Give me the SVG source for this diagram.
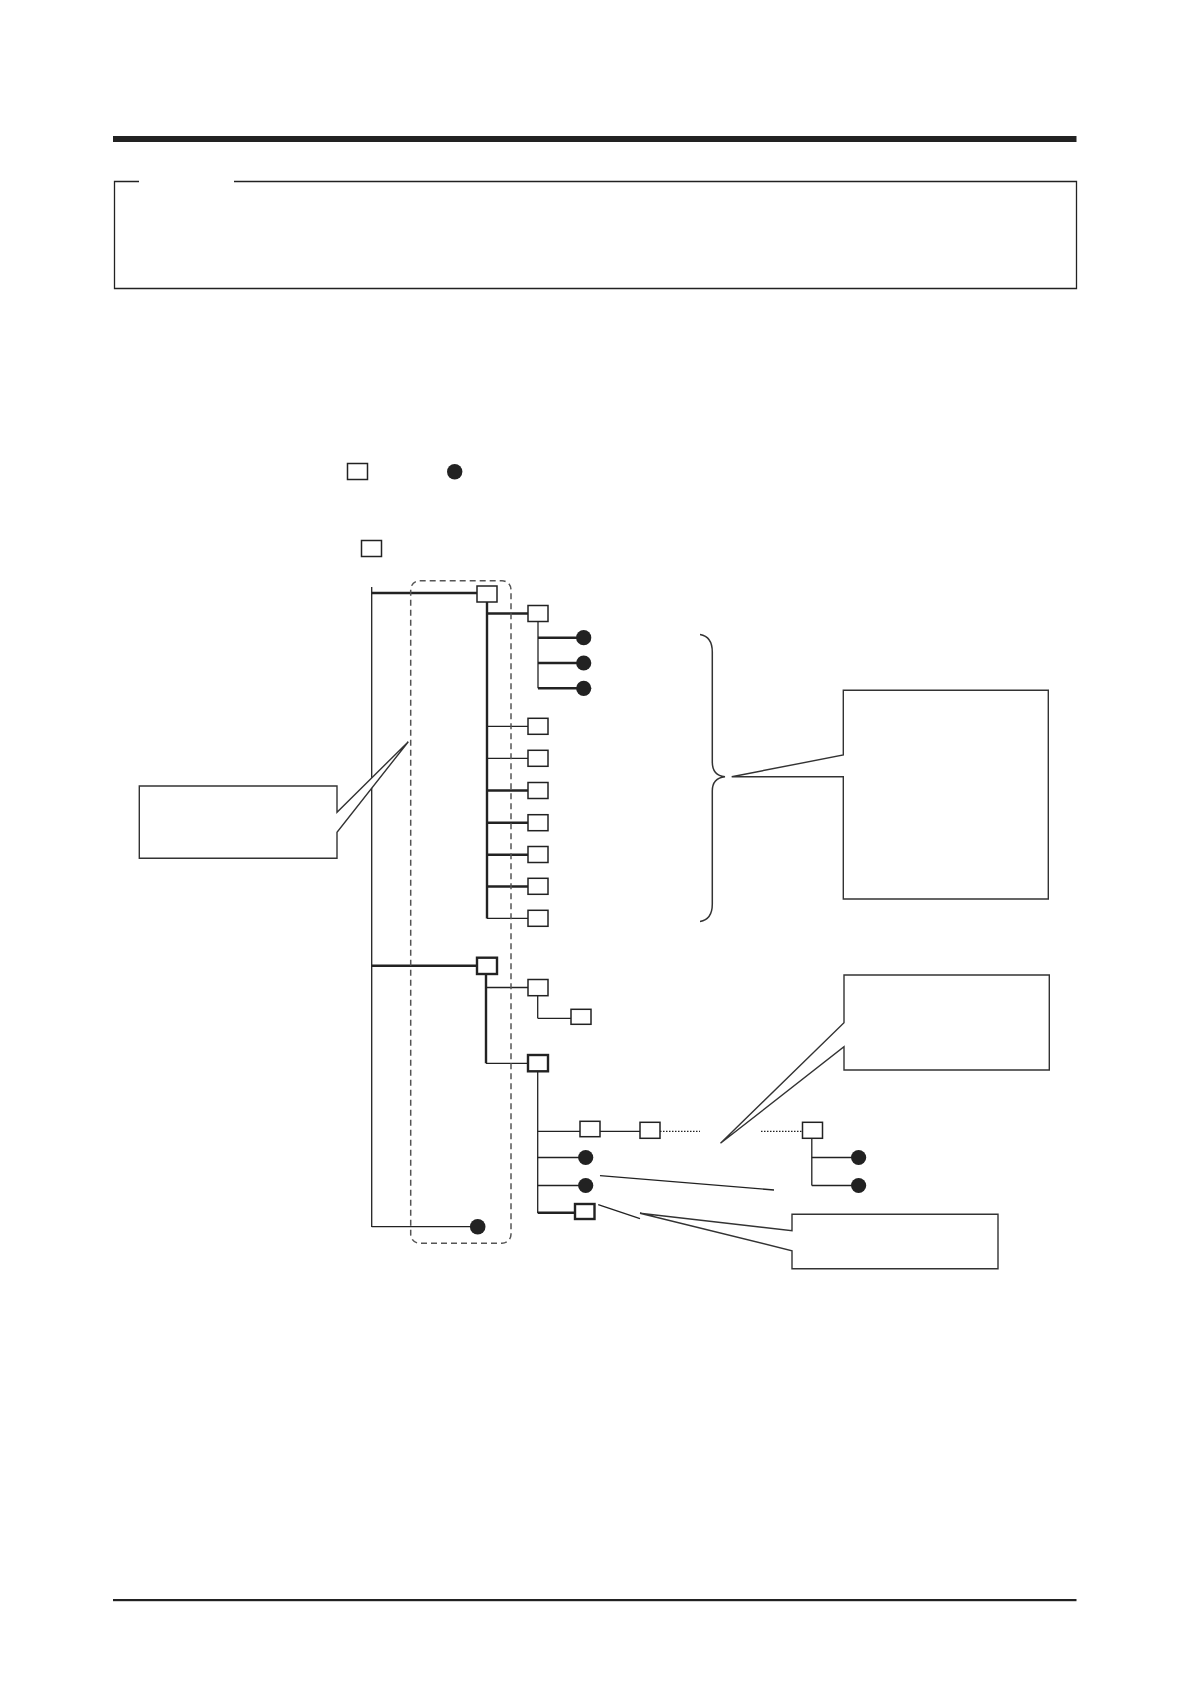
<svg xmlns="http://www.w3.org/2000/svg" width="1191" height="1684" viewBox="0 0 1191 1684">
<style>
.ln{stroke:#222;stroke-width:1.3;fill:none}
.tk{stroke:#222;stroke-width:2.4;fill:none}
.bx{fill:#fff;stroke:#222;stroke-width:1.5}
.bxt{fill:#fff;stroke:#222;stroke-width:2.4}
.dot{fill:#222}
.co{fill:#fff;stroke:#333;stroke-width:1.4}
.dash{fill:none;stroke:#555;stroke-width:1.5;stroke-dasharray:6,4}
.dotted{stroke:#222;stroke-width:1.2;stroke-dasharray:1.5,1.5;fill:none}
</style>
<rect width="1191" height="1684" fill="#fff"/>
<g id="frame">
<rect x="113" y="136" width="963.5" height="6" fill="#222"/>
<path d="M139 181.5 H114.5 V288.5 H1076.5 V181.5 H234" fill="none" stroke="#222" stroke-width="1.3"/>
<rect x="113" y="1599" width="963.5" height="2.2" fill="#222"/>
</g>
<g id="legend">
<rect class="bx" x="347.5" y="463.5" width="20" height="16"/>
<circle class="dot" cx="454.7" cy="471.7" r="7.7"/>
<rect class="bx" x="361.5" y="540.5" width="20" height="16"/>
</g>
<g id="connectors">
<line class="ln" x1="371.7" y1="587" x2="371.7" y2="1227"/>
<line class="tk" x1="371.7" y1="593" x2="477" y2="593"/>
<line class="tk" x1="487" y1="602" x2="487" y2="918.5"/>
<line class="tk" x1="487" y1="613.5" x2="528" y2="613.5"/>
<line class="ln" x1="538" y1="621.5" x2="538" y2="688.3"/>
<line class="tk" x1="538" y1="637.7" x2="580" y2="637.7"/>
<line class="tk" x1="538" y1="663" x2="580" y2="663"/>
<line class="tk" x1="538" y1="688.3" x2="580" y2="688.3"/>
<line class="ln" x1="487" y1="726.3" x2="528" y2="726.3"/>
<line class="ln" x1="487" y1="758.3" x2="528" y2="758.3"/>
<line class="tk" x1="487" y1="790.5" x2="528" y2="790.5"/>
<line class="tk" x1="487" y1="822.7" x2="528" y2="822.7"/>
<line class="tk" x1="487" y1="854.7" x2="528" y2="854.7"/>
<line class="tk" x1="487" y1="886.5" x2="528" y2="886.5"/>
<line class="ln" x1="487" y1="918.3" x2="528" y2="918.3"/>
<line class="tk" x1="371.7" y1="965.7" x2="477" y2="965.7"/>
<line class="tk" x1="486" y1="974" x2="486" y2="1063.3"/>
<line class="ln" x1="486" y1="987.5" x2="528" y2="987.5"/>
<line class="ln" x1="537.7" y1="995.7" x2="537.7" y2="1018.3"/>
<line class="ln" x1="537.7" y1="1018.3" x2="571" y2="1018.3"/>
<line class="ln" x1="486" y1="1063.3" x2="528" y2="1063.3"/>
<line class="ln" x1="537.7" y1="1071.3" x2="537.7" y2="1213"/>
<line class="ln" x1="537.7" y1="1131.3" x2="580" y2="1131.3"/>
<line class="ln" x1="600" y1="1131.3" x2="640" y2="1131.3"/>
<line class="dotted" x1="660" y1="1131.3" x2="700" y2="1131.3"/>
<line class="dotted" x1="761" y1="1131.3" x2="802.5" y2="1131.3"/>
<line class="ln" x1="811.8" y1="1138.3" x2="811.8" y2="1185.5"/>
<line class="ln" x1="811.8" y1="1157.5" x2="852" y2="1157.5"/>
<line class="ln" x1="811.8" y1="1185.5" x2="852" y2="1185.5"/>
<line class="ln" x1="537.7" y1="1157.5" x2="580" y2="1157.5"/>
<line class="ln" x1="537.7" y1="1185.5" x2="580" y2="1185.5"/>
<line class="tk" x1="537.7" y1="1212.7" x2="575" y2="1212.7"/>
<line class="ln" x1="371.7" y1="1226.7" x2="470" y2="1226.7"/>
<line class="ln" x1="600" y1="1175.7" x2="774" y2="1190"/>
<line class="ln" x1="598.2" y1="1204.7" x2="640" y2="1218.7"/>
</g>
<g id="group-dashed">
<rect class="dash" x="410.7" y="580.7" width="100.3" height="662.6" rx="9" ry="9"/>
</g>
<g id="node-root1"><rect class="bx" x="477" y="586" width="20" height="16"/></g>
<g id="node-a"><rect class="bx" x="528" y="605.5" width="20" height="16"/></g>
<g id="node-a1"><circle class="dot" cx="583.7" cy="637.7" r="7.6"/></g>
<g id="node-a2"><circle class="dot" cx="583.7" cy="663" r="7.6"/></g>
<g id="node-a3"><circle class="dot" cx="583.7" cy="688.3" r="7.6"/></g>
<g id="node-b1"><rect class="bx" x="528" y="718.3" width="20" height="16"/></g>
<g id="node-b2"><rect class="bx" x="528" y="750.3" width="20" height="16"/></g>
<g id="node-b3"><rect class="bx" x="528" y="782.5" width="20" height="16"/></g>
<g id="node-b4"><rect class="bx" x="528" y="814.7" width="20" height="16"/></g>
<g id="node-b5"><rect class="bx" x="528" y="846.5" width="20" height="16"/></g>
<g id="node-b6"><rect class="bx" x="528" y="878.3" width="20" height="16"/></g>
<g id="node-b7"><rect class="bx" x="528" y="910.3" width="20" height="16"/></g>
<g id="node-root2"><rect class="bxt" x="477" y="957.7" width="20" height="16.3"/></g>
<g id="node-c"><rect class="bx" x="528" y="979.5" width="20" height="16.2"/></g>
<g id="node-d"><rect class="bx" x="571" y="1009.3" width="20" height="15"/></g>
<g id="node-e"><rect class="bxt" x="528" y="1055" width="20" height="16.3"/></g>
<g id="node-f"><rect class="bx" x="580" y="1121.3" width="20" height="15.4"/></g>
<g id="node-h"><rect class="bx" x="640" y="1122.3" width="20" height="16"/></g>
<g id="node-i"><rect class="bx" x="802.5" y="1122.3" width="20" height="16"/></g>
<g id="node-i1"><circle class="dot" cx="858.6" cy="1157.5" r="7.6"/></g>
<g id="node-i2"><circle class="dot" cx="858.6" cy="1185.5" r="7.6"/></g>
<g id="node-e1"><circle class="dot" cx="585.7" cy="1157.5" r="7.6"/></g>
<g id="node-e2"><circle class="dot" cx="585.7" cy="1185.5" r="7.6"/></g>
<g id="node-g"><rect class="bxt" x="575" y="1204" width="19.5" height="15"/></g>
<g id="node-root3"><circle class="dot" cx="477.7" cy="1226.7" r="7.8"/></g>
<g id="brace">
<path d="M700 634.5 C709 636 712.3 642 712.3 652 V762 C712.3 771 717 776 725 776.7 C717 777.5 712.3 782 712.3 791 V904 C712.3 914 709 920 700 921.5" fill="none" stroke="#333" stroke-width="1.5"/>
</g>
<g id="callout-left">
<path class="co" d="M337 786 H139.3 V858.3 H337 V832.3 L408.3 741.7 L337 812.3 Z"/>
</g>
<g id="callout-right-top">
<path class="co" d="M843.3 690.3 H1048.3 V899 H843.3 V776.7 H731.7 L843.3 755 Z"/>
</g>
<g id="callout-right-mid">
<path class="co" d="M844 975 H1049.3 V1070 H844 V1046.7 L720.5 1143.3 L844 1022.7 Z"/>
</g>
<g id="callout-right-bottom">
<path class="co" d="M792 1214.3 H998 V1268.7 H792 V1250.7 L640 1213.3 L792 1230.7 Z"/>
</g>
</svg>
